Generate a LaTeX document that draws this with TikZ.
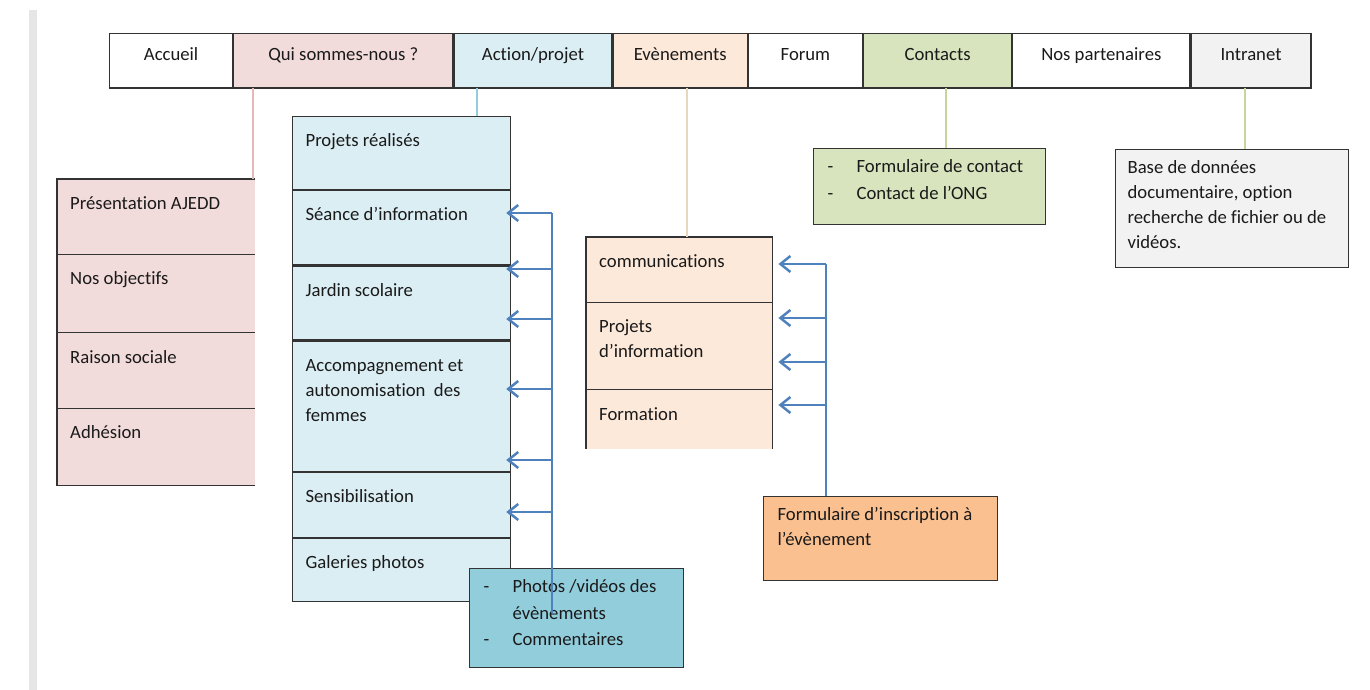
\documentclass[tikz,border=0pt]{standalone}
\usepackage{fontspec}
\setmainfont{Carlito}[Ligatures=NoCommon]
\usetikzlibrary{arrows.meta}
\definecolor{bord}{HTML}{333333}
\definecolor{texte}{HTML}{1A1A1A}
\definecolor{bande}{HTML}{E6E6E6}
\definecolor{fondrose}{HTML}{F2DCDB}
\definecolor{fondbleu}{HTML}{DBEEF4}
\definecolor{fondpeche}{HTML}{FDE9D9}
\definecolor{fondvert}{HTML}{D7E4BD}
\definecolor{fondgris}{HTML}{F2F2F2}
\definecolor{fondturq}{HTML}{92CDDC}
\definecolor{fondorange}{HTML}{FAC090}
\definecolor{bleufl}{HTML}{4F81BD}
\definecolor{lrose}{HTML}{E6B9B8}
\definecolor{lbleu}{HTML}{93CDDD}
\definecolor{lpeche}{HTML}{E9D6BC}
\definecolor{lvert}{HTML}{C3D69B}
\newcommand{\tiret}{\makebox[29pt][l]{-}}
\tikzset{
  >={Straight Barb[length=10pt,width=16pt]},
  every node/.style={font=\fontsize{18.7}{25}\selectfont, text=texte},
  cellule/.style={draw=bord, line width=1.2pt, inner xsep=0pt, inner ysep=0pt,
    text height=27pt, text depth=27pt, anchor=north west},
  rangee/.style={fill=#1, inner xsep=13pt, inner ysep=0pt, text height=30pt,
    anchor=north west, align=flush left},
  boite/.style={draw=bord, line width=1.2pt, fill=#1, inner xsep=14pt, inner ysep=0pt,
    text height=24pt, anchor=north west, align=flush left},
  trait/.style={draw=bord, line width=1.2pt},
  lien/.style={draw=#1, line width=2pt},
  bus/.style={draw=bleufl, line width=2.5pt},
  fleche/.style={bus, ->},
}

\begin{document}
\begin{tikzpicture}[x=1pt,y=-1pt]
  \useasboundingbox (0,0) rectangle (1370,690);
  \fill[bande] (29,10) rectangle (37,690);

  % menu
  \node[cellule, minimum width=123pt] (accueil) at (109,33) {Accueil};
  \node[cellule, minimum width=219pt, fill=fondrose] (qui) at (accueil.north east) {Qui sommes-nous ?};
  \node[cellule, minimum width=158pt, fill=fondbleu] (action) at (qui.north east) {Action/projet};
  \node[cellule, minimum width=134pt, fill=fondpeche] (evt) at (action.north east) {Evènements};
  \node[cellule, minimum width=114pt] (forum) at (evt.north east) {Forum};
  \node[cellule, minimum width=148pt, fill=fondvert] (contacts) at (forum.north east) {Contacts};
  \node[cellule, minimum width=177pt] (partenaires) at (contacts.north east) {Nos partenaires};
  \node[cellule, minimum width=120pt, fill=fondgris] (intranet) at (partenaires.north east) {Intranet};
  \draw[trait, line width=2.5pt] (accueil.south west) -- (intranet.south east);

  % qui sommes-nous
  \node[rangee=fondrose, text width=172pt, text depth=45pt] (pres) at (57,179) {Présentation AJEDD};
  \node[rangee=fondrose, text width=172pt, text depth=48pt] (obj) at (pres.south west) {Nos objectifs};
  \node[rangee=fondrose, text width=172pt, text depth=45pt] (raison) at (obj.south west) {Raison sociale};
  \node[rangee=fondrose, text width=172pt, text depth=47pt] (adh) at (raison.south west) {Adhésion};
  \draw[trait] (pres.north east) -- (pres.north west) -- (adh.south west) -- (adh.south east);
  \foreach \r in {pres,obj,raison}
    \draw[trait] (\r.south west) -- (\r.south east);

  % action/projet
  \node[rangee=fondbleu, trait, text width=192pt, text depth=43pt] (realises) at (292,116) {Projets réalisés};
  \node[rangee=fondbleu, trait, text width=192pt, text depth=44pt] (seance) at (realises.south west) {Séance d’information};
  \node[rangee=fondbleu, trait, text width=192pt, text depth=44pt] (jardin) at (seance.south west) {Jardin scolaire};
  \node[rangee=fondbleu, trait, text width=192pt, text depth=100pt] (accomp) at (jardin.south west) {Accompagnement et\\autonomisation\ \ des\\femmes};
  \node[rangee=fondbleu, trait, text width=192pt, text depth=35pt] (sensib) at (accomp.south west) {Sensibilisation};
  \node[rangee=fondbleu, trait, text width=192pt, text depth=33pt] (galerie) at (sensib.south west) {Galeries photos};

  % evenements
  \node[rangee=fondpeche, text width=160pt, text depth=35pt] (comm) at (586,237) {communications};
  \node[rangee=fondpeche, text width=160pt, text depth=57pt] (projinfo) at (comm.south west) {Projets\\d’information};
  \node[rangee=fondpeche, text width=160pt, text depth=29pt] (formation) at (projinfo.south west) {Formation};
  \draw[trait] (formation.south west) -- (comm.north west) -- (comm.north east) -- (formation.south east);
  \foreach \r in {comm,projinfo}
    \draw[trait] (\r.south west) -- (\r.south east);

  % boites
  \node[boite=fondvert, text width=204pt, text depth=52pt] (formcontact) at (813,148)
    {\tiret Formulaire de contact\\[2pt]\tiret Contact de l’ONG};
  \node[boite=fondgris, inner xsep=12pt, text width=209pt, text depth=94pt] (base) at (1115,149)
    {Base de données\\documentaire, option\\recherche de fichier ou de\\vidéos.};
  \node[boite=fondorange, text width=206pt, text depth=60pt] (insc) at (763,496)
    {Formulaire d’inscription à\\l’évènement};
  \node[boite=fondturq, text width=186pt, text depth=75pt] (photos) at (469,568)
    {\tiret Photos /vidéos des\\[2pt]\hspace*{29pt}évènements\\[1pt]\tiret Commentaires};

  % liens du menu
  \coordinate (xqui) at (253,0);
  \coordinate (xact) at (477,0);
  \coordinate (xevt) at (687,0);
  \coordinate (xcont) at (946,0);
  \coordinate (xintra) at (1245,0);
  \draw[lien=lrose] (xqui |- qui.south) -- (xqui |- pres.north);
  \draw[lien=lbleu] (xact |- action.south) -- (xact |- realises.north);
  \draw[lien=lpeche] (xevt |- evt.south) -- (xevt |- comm.north);
  \draw[lien=lvert] (xcont |- contacts.south) -- (xcont |- formcontact.north);
  \draw[lien=lvert] (xintra |- intranet.south) -- (xintra |- base.north);

  % fleches galerie
  \coordinate (busA) at (552,213);
  \coordinate (busAfin) at (552,613);
  \coordinate (pointeA) at ([xshift=-5pt]seance.east);
  \draw[bus] (busA) -- (busAfin);
  \foreach \y in {213,269,319,389,460,512}
    \draw[fleche] (busA |- 0,\y) -- (pointeA |- 0,\y);

  % fleches inscription
  \coordinate (busE) at (826,264);
  \coordinate (pointeE) at ([xshift=6pt]comm.east);
  \draw[bus] (busE) -- (busE |- insc.north);
  \foreach \y in {264,318,362,405}
    \draw[fleche] (busE |- 0,\y) -- (pointeE |- 0,\y);
\end{tikzpicture}
\end{document}
